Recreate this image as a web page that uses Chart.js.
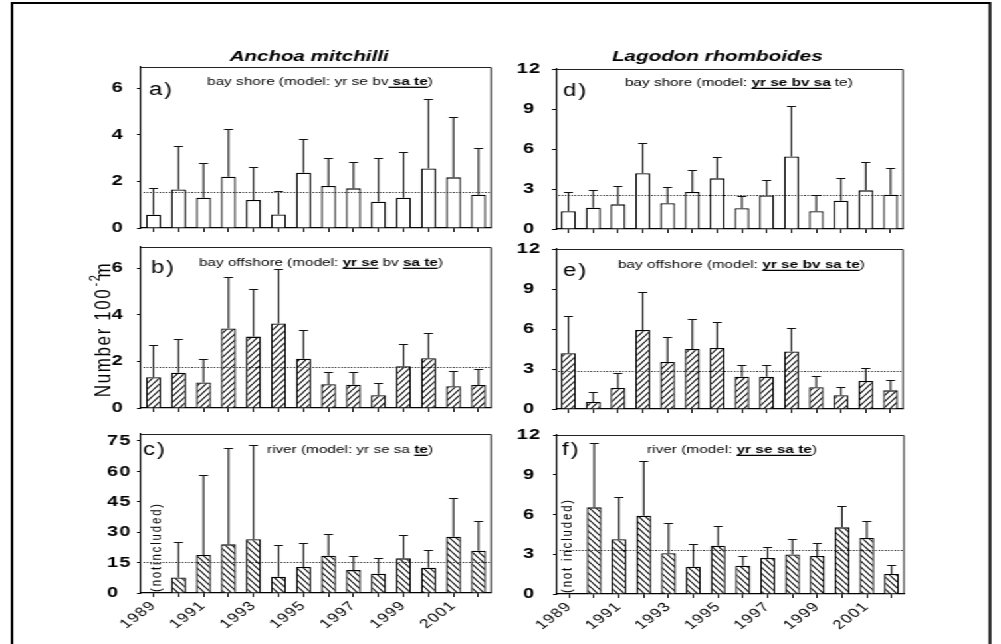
<!DOCTYPE html>
<html><head><meta charset="utf-8">
<script src="https://cdn.jsdelivr.net/npm/chart.js@4.4.1/dist/chart.umd.min.js"></script>
<style>
html,body{margin:0;padding:0;background:#fff;overflow:hidden;}
#stage{position:absolute;left:0;top:0;width:1001px;height:644px;overflow:hidden;background:#fff;}
#wrap{position:absolute;left:0;top:0;height:644px;transform-origin:0 0;}
#wrap canvas{position:absolute;left:0;top:0;}
</style></head>
<body><div id="stage"><div id="wrap"></div></div>
<script>
// ---------------- DATA ----------------
const years = ['1989','1990','1991','1992','1993','1994','1995','1996','1997','1998','1999','2000','2001','2002'];
const xTickLabels = ['1989','1991','1993','1995','1997','1999','2001'];

const yTicksAB = [0, 2, 4, 6];
const yTicksC = [0, 15, 30, 45, 60, 75];
const yTicksDEF = [0, 3, 6, 9, 12];

// Anchoa mitchilli
const aValues = [0.57, 1.65, 1.30, 2.20, 1.20, 0.58, 2.37, 1.80, 1.70, 1.13, 1.30, 2.55, 2.17, 1.43];
const aUpper  = [1.72, 3.50, 2.78, 4.23, 2.62, 1.60, 3.80, 3.00, 2.82, 3.00, 3.26, 5.55, 4.77, 3.43];
const aMean = 1.55;

const bValues = [1.32, 1.51, 1.09, 3.41, 3.06, 3.62, 2.11, 1.02, 1.00, 0.55, 1.79, 2.13, 0.93, 0.99];
const bUpper  = [2.68, 2.94, 2.12, 5.60, 5.08, 5.94, 3.34, 1.55, 1.54, 1.08, 2.73, 3.20, 1.58, 1.68];
const bMean = 1.75;

const cValues = [null, 7.7, 18.75, 24.0, 26.5, 8.06, 12.8, 18.4, 11.3, 9.5, 17.1, 12.5, 27.8, 20.9];
const cUpper  = [null, 25.3, 58.2, 71.4, 73.2, 23.8, 24.7, 28.9, 18.1, 17.3, 28.8, 21.2, 46.7, 35.7];
const cMean = 15.1;

// Lagodon rhomboides
const dValues = [1.33, 1.60, 1.85, 4.18, 1.93, 2.78, 3.80, 1.56, 2.52, 5.44, 1.33, 2.12, 2.90, 2.57];
const dUpper  = [2.80, 2.90, 3.20, 6.48, 3.18, 4.43, 5.38, 2.45, 3.66, 9.21, 2.56, 3.80, 5.00, 4.60];
const dMean = 2.55;

const eValues = [4.18, 0.53, 1.58, 5.93, 3.53, 4.50, 4.58, 2.42, 2.42, 4.32, 1.64, 1.03, 2.10, 1.40];
const eUpper  = [7.00, 1.28, 2.68, 8.78, 5.40, 6.75, 6.53, 3.30, 3.32, 6.04, 2.46, 1.68, 3.05, 2.15];
const eMean = 2.85;

const fValues = [null, 6.54, 4.13, 5.91, 3.07, 2.06, 3.65, 2.14, 2.72, 2.99, 2.87, 5.03, 4.23, 1.51];
const fUpper  = [null, 11.37, 7.30, 10.06, 5.38, 3.80, 5.13, 2.87, 3.52, 4.13, 3.82, 6.62, 5.53, 2.16];
const fMean = 3.32;

const speciesTitles = ['Anchoa mitchilli', 'Lagodon rhomboides'];
const yTitleMain = 'Number 100';
const yTitleSup = '-2';
const yTitleUnit = 'm';

const subA = [{t:'bay shore (model: yr se bv'}, {t:' sa te', b:1}, {t:')'}];
const subB = [{t:'bay offshore (model: '}, {t:'yr se', b:1}, {t:' bv '}, {t:'sa te', b:1}, {t:')'}];
const subC = [{t:'river (model: yr se sa '}, {t:'te', b:1}, {t:')'}];
const subD = [{t:'bay shore (model: '}, {t:'yr se bv sa', b:1}, {t:' te)'}];
const subE = [{t:'bay offshore (model: '}, {t:'yr se bv sa te', b:1}, {t:')'}];
const subF = [{t:'river (model: '}, {t:'yr se sa te', b:1}, {t:')'}];

// ---------------- LAYOUT ----------------
const CW = 753;                 // drawing width, stretched horizontally to 1001
const S = 1001 / CW;
const FONT = "'Liberation Sans', Arial, Helvetica, sans-serif";
const px = v => v / S;

const wrap = document.getElementById('wrap');
wrap.style.width = CW + 'px';
wrap.style.transform = 'scaleX(' + S + ')';

function setLS(ctx, v) { try { ctx.letterSpacing = v + 'px'; } catch (e) {} }

function hatch(ctx, dir) {
  const w = 5, h = 6;
  const c = document.createElement('canvas'); c.width = w; c.height = h;
  const g = c.getContext('2d');
  g.fillStyle = '#fff'; g.fillRect(0, 0, w, h);
  g.strokeStyle = '#000'; g.lineWidth = 1.1;
  g.beginPath();
  for (let k = -1; k <= 1; k++) {
    if (dir === '/') { g.moveTo(k * w, h); g.lineTo(k * w + w, 0); }
    else { g.moveTo(k * w, 0); g.lineTo(k * w + w, h); }
  }
  g.stroke();
  return ctx.createPattern(c, 'repeat');
}

// draws segmented text, spread so that the whole run spans targetW (drawing units)
function drawSegs(ctx, segs, x, y, size, targetW) {
  setLS(ctx, 0);
  let nat = 0, n = 0;
  for (const s of segs) {
    ctx.font = (s.b ? 'bold ' : '') + size + 'px ' + FONT;
    nat += ctx.measureText(s.t).width; n += s.t.length;
  }
  const ls = Math.max(0, (targetW - nat) / n);
  let cx = x;
  ctx.textAlign = 'left'; ctx.textBaseline = 'alphabetic';
  for (const s of segs) {
    ctx.font = (s.b ? 'bold ' : '') + size + 'px ' + FONT;
    setLS(ctx, 0);
    const w0 = ctx.measureText(s.t).width;
    const w = w0 + ls * s.t.length;
    setLS(ctx, ls);
    ctx.fillText(s.t, cx, y);
    if (s.b) {
      ctx.save(); ctx.strokeStyle = '#000'; ctx.lineWidth = 1.3;
      ctx.beginPath(); ctx.moveTo(cx, y + 2.3); ctx.lineTo(cx + w - ls * 0.5, y + 2.3); ctx.stroke();
      ctx.restore();
    }
    cx += w;
  }
  setLS(ctx, 0);
}

function drawSpread(ctx, text, cx, y, font, targetW) {
  ctx.font = font; setLS(ctx, 0);
  const nat = ctx.measureText(text).width;
  const ls = Math.max(0, (targetW - nat) / text.length);
  setLS(ctx, ls);
  ctx.textAlign = 'left';
  ctx.fillText(text, cx - targetW / 2, y);
  setLS(ctx, 0);
}

const panels = [
  {id:'a', box:{l:141,r:491,t:67,b:228}, yMax:6.9, yTicks:yTicksAB, values:aValues, upper:aUpper, mean:aMean, fill:'plain', showX:false,
   letter:'a)', letterPos:[149,95], segs:subA, segPos:[207,85], segW:226, align:'near', lab:124, notIncl:null},
  {id:'b', box:{l:141,r:491,t:247,b:408}, yMax:6.9, yTicks:yTicksAB, values:bValues, upper:bUpper, mean:bMean, fill:'/', showX:false,
   letter:'b)', letterPos:[151,273], segs:subB, segPos:[199,266], segW:244, align:'near', lab:124, notIncl:null},
  {id:'c', box:{l:141,r:491,t:434,b:593}, yMax:78.45, yTicks:yTicksC, values:cValues, upper:cUpper, mean:cMean, fill:'\\', showX:true,
   letter:'c)', letterPos:[143,455], segs:subC, segPos:[267,453], segW:166, align:'far', lab:107, notIncl:'(notincluded)', niPos:[157,592], niW:90},
  {id:'d', box:{l:556,r:903,t:69,b:229}, yMax:12, yTicks:yTicksDEF, values:dValues, upper:dUpper, mean:dMean, fill:'plain', showX:false,
   letter:'d)', letterPos:[563,96], segs:subD, segPos:[625,86], segW:227, align:'center', lab:530, notIncl:null},
  {id:'e', box:{l:556,r:903,t:249,b:409}, yMax:12, yTicks:yTicksDEF, values:eValues, upper:eUpper, mean:eMean, fill:'/', showX:false,
   letter:'e)', letterPos:[563,276], segs:subE, segPos:[618,268], segW:247, align:'center', lab:530, notIncl:null},
  {id:'f', box:{l:557,r:904,t:435,b:594}, yMax:12, yTicks:yTicksDEF, values:fValues, upper:fUpper, mean:fMean, fill:'\\', showX:true,
   letter:'f)', letterPos:[562,455], segs:subF, segPos:[647,453], segW:170, align:'center', lab:530, notIncl:'(not included)', niPos:[567,593], niW:95}
];

const globalDecor = {
  id: 'globalDecor',
  afterDraw(chart) {
    const ctx = chart.ctx;
    ctx.save();
    setLS(ctx, 0);
    // outer frame
    ctx.strokeStyle = '#000'; ctx.lineWidth = 2;
    ctx.beginPath();
    ctx.moveTo(px(12), 650); ctx.lineTo(px(12), 3); ctx.lineTo(px(990), 3); ctx.lineTo(px(990), 650);
    ctx.stroke();
    // species titles
    ctx.fillStyle = '#000';
    ctx.textBaseline = 'alphabetic';
    drawSpread(ctx, speciesTitles[0], px(308), 61, 'italic bold 15.5px ' + FONT, px(157));
    drawSpread(ctx, speciesTitles[1], px(716), 61, 'italic bold 15.5px ' + FONT, px(208));
    // y axis title
    ctx.translate(px(104), 328);
    ctx.rotate(-Math.PI / 2);
    const LS = 1.6;
    ctx.font = '17px ' + FONT; setLS(ctx, LS);
    const w1 = ctx.measureText(yTitleMain).width;
    ctx.font = '11px ' + FONT;
    const w2 = ctx.measureText(yTitleSup).width;
    ctx.font = '17px ' + FONT;
    const w3 = ctx.measureText(yTitleUnit).width;
    let x0 = -(w1 + w2 + w3) / 2;
    ctx.textAlign = 'left'; ctx.textBaseline = 'middle';
    ctx.fillText(yTitleMain, x0, 0);
    ctx.font = '11px ' + FONT;
    ctx.fillText(yTitleSup, x0 + w1 + 1, -6);
    ctx.font = '17px ' + FONT;
    ctx.fillText(yTitleUnit, x0 + w1 + w2 - 3, 0);
    setLS(ctx, 0);
    ctx.restore();
  }
};

function panelDecor(p) {
  return {
    id: 'decor_' + p.id,
    beforeUpdate(chart) { setLS(chart.ctx, 0.9); },
    beforeDraw(chart) { setLS(chart.ctx, 0.9); },
    afterDatasetsDraw(chart) {
      const ctx = chart.ctx, ca = chart.chartArea, ys = chart.scales.y;
      const meta = chart.getDatasetMeta(0);
      ctx.save();
      setLS(ctx, 0);
      // mean dotted line
      const my = Math.round(ys.getPixelForValue(p.mean)) + 0.5;
      ctx.strokeStyle = '#000'; ctx.lineWidth = 1; ctx.setLineDash([1, 1.4]);
      ctx.beginPath(); ctx.moveTo(ca.left + 2, my); ctx.lineTo(ca.right, my); ctx.stroke();
      ctx.setLineDash([]);
      // error bars (upper only)
      ctx.strokeStyle = '#111'; ctx.lineWidth = 1.1;
      const cap = px(4.5);
      meta.data.forEach((el, i) => {
        if (p.values[i] == null || p.upper[i] == null) return;
        const yu = Math.round(ys.getPixelForValue(p.upper[i])) + 0.5;
        ctx.beginPath();
        ctx.moveTo(el.x, el.y); ctx.lineTo(el.x, yu);
        ctx.moveTo(el.x - cap, yu); ctx.lineTo(el.x + cap, yu);
        ctx.stroke();
      });
      // panel box top & right
      ctx.strokeStyle = '#222'; ctx.lineWidth = 1;
      ctx.beginPath();
      ctx.moveTo(ca.left, Math.round(ca.top) + 0.5); ctx.lineTo(ca.right, Math.round(ca.top) + 0.5);
      ctx.lineTo(ca.right, ca.bottom);
      ctx.stroke();
      // panel letter
      ctx.fillStyle = '#000';
      ctx.font = '18px ' + FONT; ctx.textAlign = 'left'; ctx.textBaseline = 'alphabetic';
      setLS(ctx, 1.5);
      ctx.fillText(p.letter, px(p.letterPos[0]), p.letterPos[1]);
      setLS(ctx, 0);
      // subtitle
      drawSegs(ctx, p.segs, px(p.segPos[0]), p.segPos[1], 11.5, px(p.segW));
      // not included
      if (p.notIncl) {
        ctx.save();
        ctx.translate(px(p.niPos[0]), p.niPos[1]);
        ctx.rotate(-Math.PI / 2);
        ctx.font = '11.5px ' + FONT; ctx.textBaseline = 'middle';
        const nat = ctx.measureText(p.notIncl).width;
        setLS(ctx, Math.max(0, (p.niW - nat) / p.notIncl.length));
        ctx.textAlign = 'left';
        ctx.fillText(p.notIncl, 0, 0);
        setLS(ctx, 0);
        ctx.restore();
      }
      ctx.restore();
      setLS(ctx, 0.9);
    }
  };
}

panels.forEach((p, idx) => {
  const cv = document.createElement('canvas');
  cv.width = CW; cv.height = 644;
  wrap.appendChild(cv);
  const ctx = cv.getContext('2d');
  const bg = p.fill === 'plain' ? '#fff' : hatch(ctx, p.fill);

  const TL = 3; // tick length (drawing units)
  let padLeft, yW, tickPad;
  if (p.align === 'near') {
    padLeft = px(92); yW = px(p.box.l) - padLeft; tickPad = px(p.box.l - p.lab) - TL;
  } else if (p.align === 'far') {
    padLeft = px(p.lab); yW = px(p.box.l) - padLeft; tickPad = 3;
  } else {
    padLeft = px(505); yW = px(p.box.l) - padLeft;
    tickPad = px(p.box.l - p.lab) - TL - 8.6;
  }
  const xH = p.showX ? 48 : 8;

  const plugins = [panelDecor(p)];
  if (idx === 0) plugins.push(globalDecor);

  new Chart(cv, {
    type: 'bar',
    data: {
      labels: years,
      datasets: [{
        data: p.values,
        backgroundColor: bg,
        borderColor: '#000',
        borderWidth: 1.3,
        borderSkipped: 'bottom',
        barPercentage: 0.6,
        categoryPercentage: 1.0
      }]
    },
    options: {
      responsive: false,
      animation: false,
      devicePixelRatio: 1,
      events: [],
      layout: { padding: { left: padLeft, right: CW - px(p.box.r), top: p.box.t, bottom: 644 - p.box.b - xH } },
      plugins: { legend: { display: false }, tooltip: { enabled: false }, title: { display: false } },
      scales: {
        x: {
          type: 'category',
          offset: true,
          grid: { display: true, offset: false, drawOnChartArea: false, drawTicks: true, tickLength: 4, color: '#000', lineWidth: 1 },
          border: { display: true, color: '#000', width: 1.2 },
          ticks: {
            autoSkip: false, maxRotation: 45, minRotation: 45, padding: 1,
            color: '#000', font: { family: FONT, size: 13 },
            callback: (v, i) => (p.showX && xTickLabels.includes(years[i])) ? years[i] : ''
          },
          afterFit: s => { s.height = xH; }
        },
        y: {
          min: 0, max: p.yMax,
          afterBuildTicks: s => { s.ticks = p.yTicks.map(v => ({ value: v })); },
          grid: { display: true, drawOnChartArea: false, drawTicks: true, tickLength: TL, color: '#000', lineWidth: 1 },
          border: { display: true, color: '#000', width: 1.2 },
          ticks: {
            crossAlign: p.align, padding: tickPad, color: '#000',
            font: { family: FONT, size: 15, weight: 'bold' },
            callback: v => String(v)
          },
          afterFit: s => { s.width = yW; }
        }
      }
    },
    plugins: plugins
  });
});
</script>
</body></html>
